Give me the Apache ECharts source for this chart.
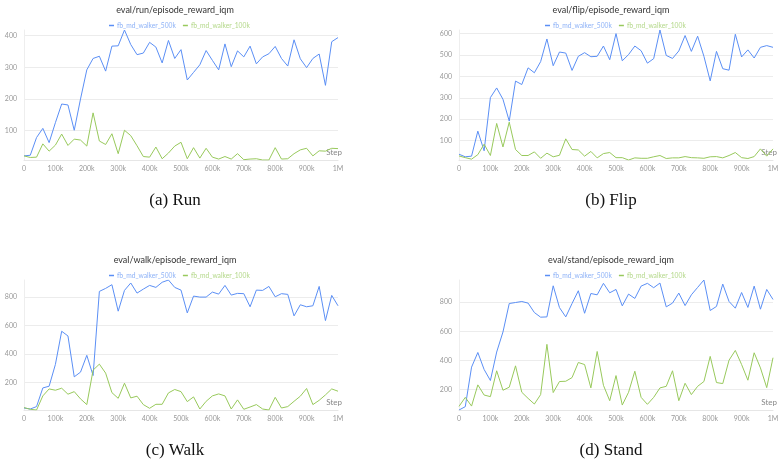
<!DOCTYPE html>
<html>
<head>
<meta charset="utf-8">
<script src="https://cdn.jsdelivr.net/npm/echarts@6/dist/echarts.min.js"></script>
<style>
  html, body { margin: 0; padding: 0; background: #fff; }
  #chart { width: 784px; height: 465px; }
</style>
</head>
<body>
<div id="chart"></div>
<script>
// steps in thousands
var stepsK = [0, 20, 40, 60, 80, 100, 120, 140, 160, 180, 200, 220, 240, 260, 280, 300, 320, 340, 360, 380,
  400, 420, 440, 460, 480, 500, 520, 540, 560, 580, 600, 620, 640, 660, 680, 700, 720, 740, 760, 780,
  800, 820, 840, 860, 880, 900, 920, 940, 960, 980, 1000];

var seriesNames = ["fb_md_walker_500k", "fb_md_walker_100k"];
var titles = ["eval/run/episode_reward_iqm", "eval/flip/episode_reward_iqm",
  "eval/walk/episode_reward_iqm", "eval/stand/episode_reward_iqm"];
var captions = ["(a) Run", "(b) Flip", "(c) Walk", "(d) Stand"];
var xTicks = ["0", "100k", "200k", "300k", "400k", "500k", "600k", "700k", "800k", "900k", "1M"];

var run500k = [20, 22, 78, 107, 62, 125, 184, 181, 101, 200, 292, 328, 335, 288, 367, 368, 418, 372, 340, 345,
  379, 364, 314, 385, 328, 356, 260, 284, 308, 353, 322, 292, 374, 302, 352, 333, 367, 311, 333, 343,
  366, 328, 304, 387, 327, 299, 328, 342, 243, 381, 394];
var run100k = [20, 15, 16, 58, 35, 54, 89, 53, 73, 70, 51, 156, 67, 56, 90, 27, 101, 84, 52, 18,
  16, 48, 11, 29, 51, 63, 11, 46, 13, 44, 16, 10, 18, 10, 27, 8, 10, 11, 7, 7,
  46, 10, 11, 27, 39, 44, 20, 36, 35, 44, 43];

var flip500k = [36, 24, 27, 144, 52, 301, 346, 293, 191, 378, 362, 440, 417, 469, 575, 450, 514, 509, 428, 494,
  511, 492, 494, 542, 478, 600, 473, 502, 542, 520, 462, 483, 617, 498, 484, 519, 591, 517, 588, 494,
  379, 517, 436, 429, 597, 491, 524, 486, 536, 544, 536];
var flip100k = [28, 20, 13, 34, 83, 30, 180, 70, 186, 58, 30, 30, 47, 17, 41, 24, 31, 108, 58, 56,
  27, 49, 19, 39, 44, 20, 20, 9, 19, 17, 17, 24, 30, 16, 19, 19, 25, 20, 19, 17,
  24, 25, 19, 30, 44, 20, 16, 25, 61, 27, 61];

var walk500k = [21, 14, 31, 162, 174, 327, 560, 527, 240, 273, 391, 249, 840, 861, 887, 701, 847, 899, 828, 856,
  882, 868, 904, 920, 868, 849, 689, 807, 800, 800, 835, 821, 882, 814, 826, 824, 732, 849, 847, 875,
  802, 824, 819, 668, 746, 732, 739, 875, 635, 812, 739];
var walk100k = [24, 12, 7, 106, 155, 146, 160, 118, 136, 85, 45, 287, 329, 266, 129, 89, 195, 92, 104, 45,
  19, 47, 47, 127, 151, 136, 66, 99, 14, 68, 106, 120, 106, 14, 78, 12, 28, 45, 14, 7,
  96, 21, 31, 68, 104, 158, 45, 75, 113, 155, 139];

var stand500k = [58, 81, 353, 454, 337, 261, 457, 595, 791, 798, 805, 794, 729, 697, 699, 913, 763, 699, 791, 879,
  724, 860, 851, 930, 865, 888, 775, 856, 826, 911, 930, 900, 932, 768, 794, 863, 777, 851, 902, 953,
  743, 771, 925, 805, 759, 867, 764, 911, 752, 888, 819];
var stand100k = [83, 145, 85, 231, 161, 150, 328, 194, 215, 362, 180, 138, 99, 164, 510, 178, 254, 256, 281, 385,
  371, 210, 461, 228, 122, 295, 92, 180, 325, 145, 97, 145, 210, 221, 328, 122, 242, 164, 221, 254,
  427, 247, 240, 401, 468, 371, 263, 452, 348, 212, 418];

var panels = [
  [run500k, run100k],
  [flip500k, flip100k],
  [walk500k, walk100k],
  [stand500k, stand100k]
];

var blue = "#5b8ff5";
var green = "#98c95c";
var font = "Lato, 'Noto Sans', sans-serif";

// panel boxes: [gridLeft, gridTop, centerX]
var boxes = [[24, 30, 175], [459, 30, 611], [24, 280, 175], [459, 280, 611]];

function pairs(vals) {
  return vals.map(function (v, i) { return [stepsK[i] * 1000, v]; });
}

var grids = [], xAxes = [], yAxes = [], legends = [], series = [], graphics = [];
boxes.forEach(function (b, k) {
  grids.push({ left: b[0], top: b[1], width: 314, height: 130 });
  xAxes.push({
    type: "value", gridIndex: k, min: 0, max: 1000000, interval: 100000,
    name: "Step", nameLocation: "end", nameGap: 4,
    nameTextStyle: { align: "right", verticalAlign: "bottom", padding: [0, 0, 4, 0], fontSize: 8, color: "#888", fontFamily: font },
    axisLine: { lineStyle: { color: "#e6e6e6" } },
    axisTick: { show: false },
    splitLine: { show: false },
    axisLabel: {
      fontSize: 7, color: "#999", margin: 5, fontFamily: font,
      formatter: function (v) { return xTicks[Math.round(v / 100000)]; }
    }
  });
  yAxes.push({
    type: "value", gridIndex: k, min: "dataMin", max: "dataMax",
    axisLine: { show: true, lineStyle: { color: "#eeeeee" } },
    axisTick: { show: false },
    splitLine: { showMinLine: false, showMaxLine: false, lineStyle: { color: "#ececec" } },
    axisLabel: { fontSize: 7, color: "#999", margin: 7, fontFamily: font, showMinLabel: false, showMaxLabel: false }
  });
  legends.push({
    left: b[2] - 71, top: b[1] - 13, icon: "rect", itemWidth: 5, itemHeight: 1.5, itemGap: 7,
    textStyle: { fontSize: 6.7, fontFamily: font, padding: [0, 0, 0, -2] },
    data: [
      { name: seriesNames[0], textStyle: { color: "#8fb3f7" } },
      { name: seriesNames[1], textStyle: { color: "#b4d88a" } }
    ]
  });
  panels[k].forEach(function (vals, j) {
    series.push({
      name: seriesNames[j], type: "line", xAxisIndex: k, yAxisIndex: k,
      data: pairs(vals), showSymbol: false, silent: true,
      lineStyle: { width: 1, color: j === 0 ? blue : green },
      itemStyle: { color: j === 0 ? blue : green }
    });
  });
  graphics.push({
    type: "text", x: b[2], y: b[1] - 20,
    style: { text: titles[k], align: "center", verticalAlign: "middle", fontSize: 9, fontFamily: font, fill: "#333" }
  });
  graphics.push({
    type: "text", x: b[2], y: b[1] + 171,
    style: { text: captions[k], align: "center", verticalAlign: "middle", fontSize: 17, fontFamily: "'Liberation Serif', serif", fill: "#111" }
  });
});

var chart = echarts.init(document.getElementById("chart"), null, { renderer: "canvas" });
chart.setOption({
  animation: false,
  grid: grids,
  xAxis: xAxes,
  yAxis: yAxes,
  legend: legends,
  series: series,
  graphic: graphics
});
</script>
</body>
</html>
